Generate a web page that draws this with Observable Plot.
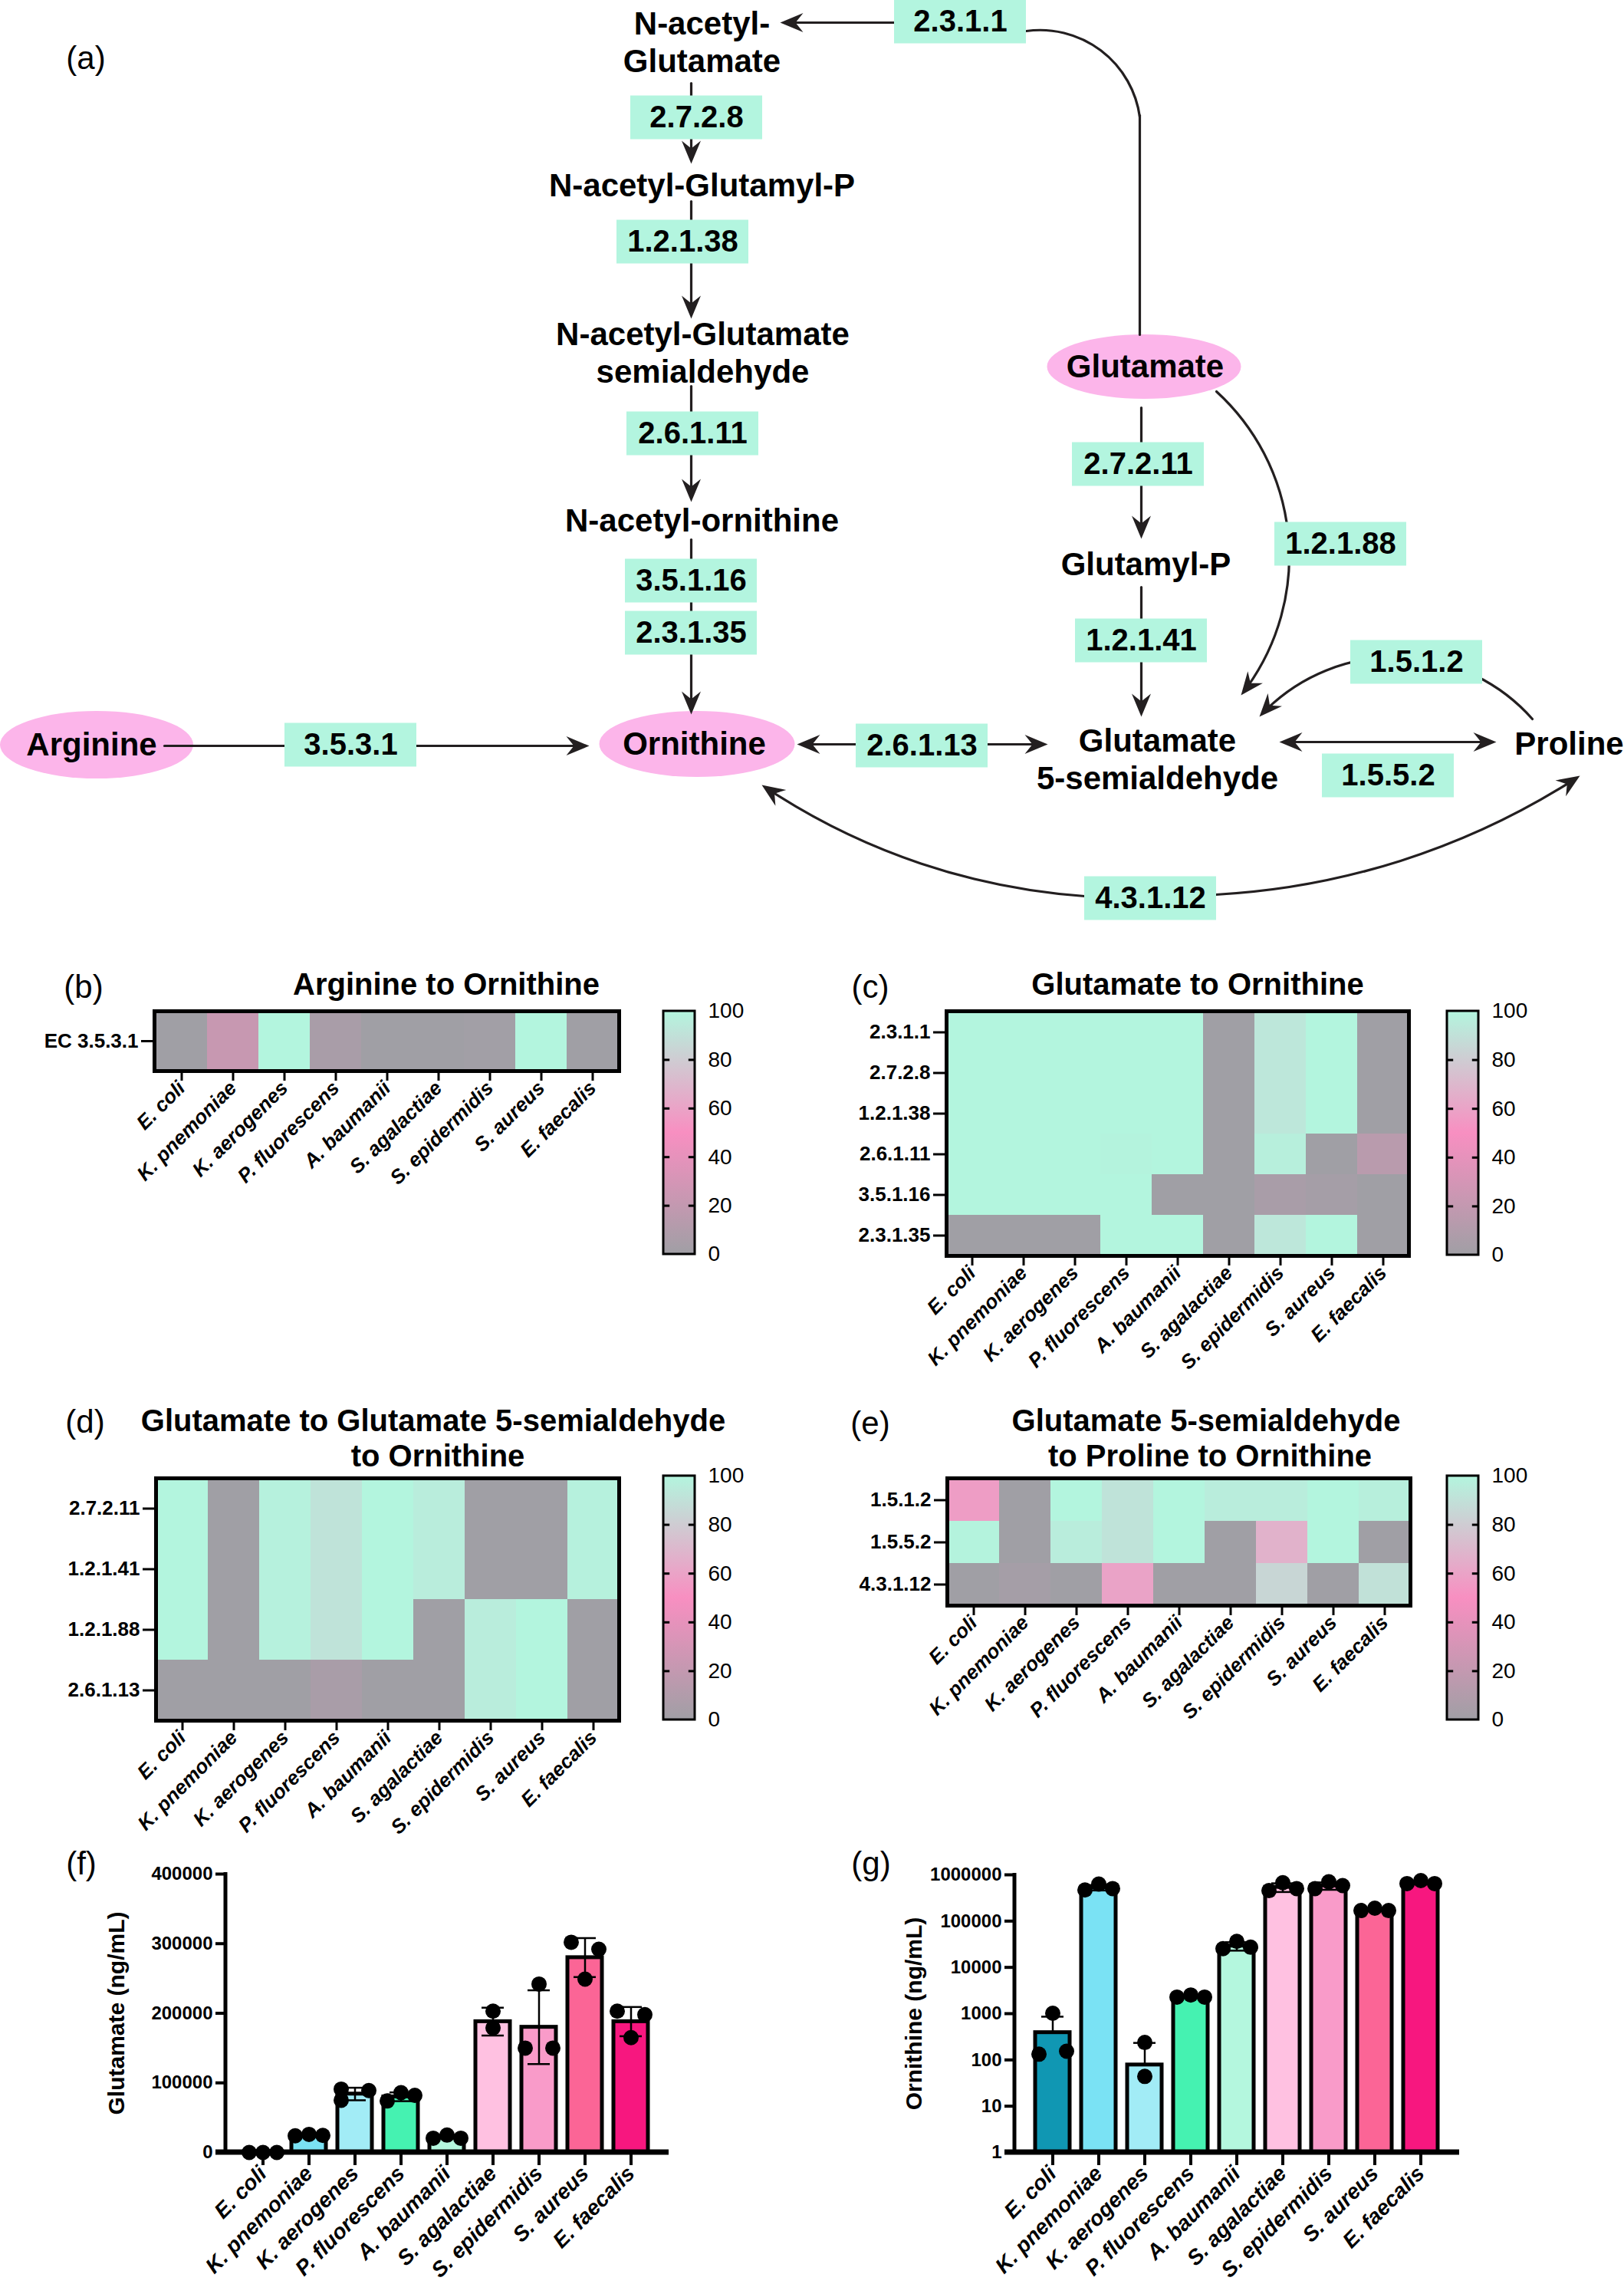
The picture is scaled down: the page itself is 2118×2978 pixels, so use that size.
<!DOCTYPE html>
<html>
<head>
<meta charset="utf-8">
<title>Ornithine biosynthesis pathways</title>
<script src="https://cdn.jsdelivr.net/npm/d3@7"></script>
<script src="https://cdn.jsdelivr.net/npm/@observablehq/plot@0.6"></script>
<style>
  html, body { margin: 0; padding: 0; background: #ffffff; }
  #page { position: relative; width: 2118px; height: 2978px; overflow: hidden; background: #ffffff;
          font-family: 'Liberation Sans', Arial, Helvetica, sans-serif; color: #000; }
  .lbl { position: absolute; transform: translate(-50%, -50%); white-space: pre; text-align: center; line-height: 1; }
  .letter { font-size: 42px; font-weight: normal; }
  .title { font-size: 40px; font-weight: bold; }
  .heat g[aria-label="x-axis tick"], .heat g[aria-label="y-axis tick"],
  .heat g[aria-label="x-axis"] .tick line, .heat g[aria-label="y-axis"] .tick line { stroke-width: 3px; }
  .heat g[aria-label="x-axis tick label"], .heat g[aria-label="x-axis"] .tick text { font-style: italic; }
  .bar g[aria-label="x-axis tick"], .bar g[aria-label="y-axis tick"],
  .bar g[aria-label="x-axis"] .tick line, .bar g[aria-label="y-axis"] .tick line { stroke-width: 4px; }
  .bar g[aria-label="x-axis tick label"], .bar g[aria-label="x-axis"] .tick text { font-style: italic; font-size: 28px; }
</style>
</head>
<body>
<div id="page"></div>
<script>
// ================= DATA =================
const species = ["E. coli", "K. pnemoniae", "K. aerogenes", "P. fluorescens", "A. baumanii",
                 "S. agalactiae", "S. epidermidis", "S. aureus", "E. faecalis"];

// (b) Arginine to Ornithine
const heatBRows = ["EC 3.5.3.1"];
const heatBValues = [[0, 22, 100, 5, 0, 0, 1, 100, 0]];

// (c) Glutamate to Ornithine
const heatCRows = ["2.3.1.1", "2.7.2.8", "1.2.1.38", "2.6.1.11", "3.5.1.16", "2.3.1.35"];
const heatCValues = [
  [100, 100, 100, 100, 100, 0, 93, 100, 0],
  [100, 100, 100, 100, 100, 0, 93, 100, 0],
  [100, 100, 100, 100, 100, 0, 93, 100, 0],
  [100, 100, 100, 99, 100, 0, 97, 0, 14],
  [100, 100, 100, 100, 0, 0, 5, 3, 0],
  [0, 0, 0, 100, 100, 0, 93, 100, 0]
];

// (d) Glutamate to Glutamate 5-semialdehyde to Ornithine
const heatDRows = ["2.7.2.11", "1.2.1.41", "1.2.1.88", "2.6.1.13"];
const heatDValues = [
  [100, 0, 98, 91, 100, 96, 0, 0, 98],
  [100, 0, 98, 91, 100, 96, 0, 0, 98],
  [100, 0, 98, 91, 100, 0, 96, 100, 0],
  [0, 0, 0, 5, 0, 0, 96, 100, 0]
];

// (e) Glutamate 5-semialdehyde to Proline to Ornithine
const heatERows = ["1.5.1.2", "1.5.5.2", "4.3.1.12"];
const heatEValues = [
  [57, 0, 100, 91, 100, 96, 96, 100, 97],
  [99, 0, 96, 91, 100, 0, 67, 100, 0],
  [0, 3, 0, 60, 0, 0, 85, 0, 90]
];

const colorStops = [0, 50, 100];
const colorRamp = ["#a09fa5", "#f88fc1", "#b3f5de"];
const colorbarTicks = [0, 20, 40, 60, 80, 100];

// (f) Glutamate (ng/mL)
const gluMean = [0, 25000, 84000, 80000, 22500, 188000, 180000, 280000, 188000];
const gluSD = [0, 1500, 9000, 6300, 2600, 20000, 53000, 28000, 21000];
const gluPoints = [[0, 0, 0], [24000, 26000, 24500], [91000, 75000, 89000], [74000, 86000, 82000],
                   [20500, 25000, 20500], [203000, 179000], [150000, 242000, 150000],
                   [302000, 249000, 292000], [203000, 165000, 198000]];
const gluTicks = [0, 100000, 200000, 300000, 400000];

// (g) Ornithine (ng/mL)
const ornMean = [390, 530000, 78, 2300, 29000, 540000, 580000, 175000, 680000];
const ornSD = [470, 70000, 155, 130, 6000, 115000, 105000, 12000, 60000];
const ornPoints = [[133, 1020, 154], [470000, 630000, 505000], [238, 44], [2280, 2530, 2280],
                   [25400, 36500, 27300], [456000, 676000, 505000], [505000, 706000, 585000],
                   [169000, 190000, 169000], [647000, 750000, 647000]];
const ornTicks = [1, 10, 100, 1000, 10000, 100000, 1000000];

const barColors = ["#1097b3", "#7ae2f4", "#a2ecf6", "#45f2b1", "#b4f7de",
                   "#ffc1e1", "#f99bc9", "#fb6596", "#f7177f"];

// (a) pathway diagram
const metabolites = ["N-acetyl-\nGlutamate", "N-acetyl-Glutamyl-P", "N-acetyl-Glutamate\nsemialdehyde",
                     "N-acetyl-ornithine", "Glutamyl-P", "Glutamate\n5-semialdehyde", "Proline"];
const keyMetabolites = ["Arginine", "Ornithine", "Glutamate"];
const enzymes = ["2.3.1.1", "2.7.2.8", "1.2.1.38", "2.6.1.11", "3.5.1.16", "2.3.1.35", "3.5.3.1",
                 "2.6.1.13", "2.7.2.11", "1.2.1.41", "1.2.1.88", "1.5.1.2", "1.5.5.2", "4.3.1.12"];

const panelLetters = ["(a)", "(b)", "(c)", "(d)", "(e)", "(f)", "(g)"];
const panelTitles = [["Arginine to Ornithine"], ["Glutamate to Ornithine"],
                     ["Glutamate to Glutamate 5-semialdehyde", "to Ornithine"],
                     ["Glutamate 5-semialdehyde", "to Proline to Ornithine"]];
const axisTitles = ["Glutamate (ng/mL)", "Ornithine (ng/mL)"];

// ================= LAYOUT (diagram coordinates, px) =================
const nodeLayout = {
  "N-acetyl-\nGlutamate": [915, 53], "N-acetyl-Glutamyl-P": [915, 239],
  "N-acetyl-Glutamate\nsemialdehyde": [916, 458], "N-acetyl-ornithine": [915, 676],
  "Glutamyl-P": [1494, 733], "Glutamate\n5-semialdehyde": [1509, 988], "Proline": [2046, 967],
  "2.3.1.1": [1252, 28], "2.7.2.8": [908, 153], "1.2.1.38": [890, 315], "2.6.1.11": [903, 565],
  "3.5.1.16": [901, 757], "2.3.1.35": [901, 825], "3.5.3.1": [457, 971], "2.6.1.13": [1202, 972],
  "2.7.2.11": [1484, 605], "1.2.1.41": [1488, 835], "1.2.1.88": [1748, 709], "1.5.1.2": [1847, 863],
  "1.5.5.2": [1810, 1011], "4.3.1.12": [1500, 1171]
};
const ellipseLayout = {
  Arginine: {cx: 126, cy: 971, w: 252, h: 88, tx: 119},
  Ornithine: {cx: 909, cy: 970, w: 255, h: 86, tx: 905},
  Glutamate: {cx: 1492, cy: 478, w: 253, h: 84, tx: 1493}
};
const edgeLayout = [
  {x1: 1166, y1: 29, x2: 1017, y2: 29, head: true},
  {x1: 1486, y1: 436, x2: 1486, y2: 150, head: false},
  {x1: 1486, y1: 152, x2: 1338, y2: 40, bend: -45, head: false},
  {x1: 901, y1: 108, x2: 901, y2: 213, head: true},
  {x1: 901, y1: 262, x2: 901, y2: 415, head: true},
  {x1: 901, y1: 503, x2: 901, y2: 654, head: true},
  {x1: 901, y1: 703, x2: 901, y2: 931, head: true},
  {x1: 214, y1: 972, x2: 768, y2: 972, head: true},
  {x1: 1202, y1: 970, x2: 1039, y2: 970, head: true},
  {x1: 1202, y1: 970, x2: 1366, y2: 970, head: true},
  {x1: 1488, y1: 531, x2: 1488, y2: 702, head: true},
  {x1: 1488, y1: 765, x2: 1488, y2: 934, head: true},
  {x1: 1586, y1: 510, x2: 1618, y2: 906, bend: 43, head: true},
  {x1: 1998, y1: 937, x2: 1642, y2: 934, bend: -48, head: true},
  {x1: 1810, y1: 967, x2: 1668, y2: 967, head: true},
  {x1: 1810, y1: 967, x2: 1951, y2: 967, head: true},
  {x1: 1414, y1: 1168, x2: 993, y2: 1023, bend: 15, head: true},
  {x1: 1585, y1: 1166, x2: 2060, y2: 1011, bend: -15, head: true}
];

// ================= RENDERING =================
const FONT = "'Liberation Sans', Arial, Helvetica, sans-serif";
const INK = "#231f20", PINK = "#fcb5ea", MINT = "#b3f5df";
const page = document.getElementById("page");

function put(el, left, top, cls) {
  el.style.position = "absolute";
  el.style.left = left + "px";
  el.style.top = top + "px";
  if (cls) el.classList.add(cls);
  page.appendChild(el);
  return el;
}
function label(str, cx, cy, cls) {
  const d = document.createElement("div");
  d.className = "lbl " + cls;
  d.textContent = str;
  d.style.left = cx + "px";
  d.style.top = cy + "px";
  page.appendChild(d);
}
function headSymbol(angleDeg) {
  const a = angleDeg * Math.PI / 180, c = Math.cos(a), s = Math.sin(a);
  const pts = [[0, 0], [-30, 12.5], [-20, 0], [-30, -12.5]];
  return {
    draw(ctx) {
      pts.forEach(([px, py], i) => {
        const X = px * c - py * s, Y = px * s + py * c;
        if (i) ctx.lineTo(X, Y); else ctx.moveTo(X, Y);
      });
      ctx.closePath();
    }
  };
}

// ---- (a) diagram ----
{
  const BW = 172, BH = 57;
  const boxData = enzymes.map(ec => ({ec, x: nodeLayout[ec][0], y: nodeLayout[ec][1]}));
  const metData = metabolites.map(m => ({name: m, x: nodeLayout[m][0], y: nodeLayout[m][1]}));
  const keyData = keyMetabolites.map(k => ({name: k, ...ellipseLayout[k]}));
  const svg = Plot.plot({
    width: 2118, height: 1230,
    marginLeft: 0, marginRight: 0, marginTop: 0, marginBottom: 0,
    x: {domain: [0, 2118], range: [0, 2118], axis: null},
    y: {domain: [0, 1230], range: [0, 1230], axis: null},
    style: {fontFamily: FONT, background: "transparent", overflow: "visible", color: "black"},
    marks: [
      Plot.rect(keyData, {x1: d => d.cx - d.w / 2, x2: d => d.cx + d.w / 2,
                          y1: d => d.cy - d.h / 2, y2: d => d.cy + d.h / 2,
                          fill: PINK, rx: 999, ry: 999}),
      ...edgeLayout.map(e => Plot.arrow([e], {x1: "x1", y1: "y1", x2: "x2", y2: "y2",
                          bend: e.bend || 0, headLength: 0, insetEnd: e.head ? 14 : 0,
                          stroke: INK, strokeWidth: 3.2})),
      Plot.rect(boxData, {x1: d => d.x - BW / 2, x2: d => d.x + BW / 2,
                          y1: d => d.y - BH / 2, y2: d => d.y + BH / 2, fill: MINT}),
      Plot.text(boxData, {x: "x", y: "y", text: "ec", fontSize: 40, fontWeight: "bold", fill: "black"}),
      Plot.text(metData, {x: "x", y: "y", text: "name", fontSize: 42, fontWeight: "bold",
                          lineHeight: 1.19, fill: "black"}),
      Plot.text(keyData, {x: "tx", y: "cy", text: "name", fontSize: 42, fontWeight: "bold", fill: "black"}),
      ...edgeLayout.filter(e => e.head).map(e => Plot.dot([e], {x: "x2", y: "y2",
                          symbol: headSymbol(Math.atan2(e.y2 - e.y1, e.x2 - e.x1) * 180 / Math.PI + (e.bend || 0)),
                          fill: INK, stroke: "none", r: 10}))
    ]
  });
  put(svg, 0, 0, "diagram");
}

// ---- heatmaps ----
function heatmap(rows, values, g) {
  const cells = [];
  rows.forEach((ec, j) => species.forEach((sp, i) => cells.push({ec, species: sp, value: values[j][i]})));
  const svg = Plot.plot({
    width: g.W, height: g.H,
    marginLeft: g.ml, marginRight: g.mr, marginTop: g.mt, marginBottom: g.mb,
    x: {domain: species, padding: 0, tickSize: 13, tickPadding: 5, tickRotate: -45, label: null},
    y: {domain: rows, padding: 0, tickSize: 17, tickPadding: 4, label: null},
    color: {type: "linear", domain: colorStops, range: colorRamp},
    style: {fontFamily: FONT, fontSize: "26px", fontWeight: "bold", background: "transparent",
            overflow: "visible", color: "black"},
    marks: [
      Plot.cell(cells, {x: "species", y: "ec", fill: "value", inset: 0, shapeRendering: "crispEdges"}),
      Plot.frame({stroke: "black", strokeWidth: 5})
    ]
  });
  return put(svg, g.left, g.top, "heat");
}
let cbCount = 0;
function colorbar(barLeft, barTop, barH) {
  const id = "cbgrad" + (cbCount++);
  const pad = 6, barW = 41, right = 100;
  const lo = colorStops[0], hi = colorStops[colorStops.length - 1];
  const svg = Plot.plot({
    width: pad + barW + right, height: barH + 2 * pad,
    marginLeft: pad, marginRight: right, marginTop: pad, marginBottom: pad,
    x: {domain: [0, 1], axis: null},
    y: {domain: [lo, hi], axis: "right", ticks: colorbarTicks, tickSize: 0, tickPadding: 17, label: null},
    style: {fontFamily: FONT, fontSize: "28px", fontWeight: "normal", background: "transparent",
            overflow: "visible", color: "black"},
    marks: [
      () => {
        const defs = d3.create("svg:defs");
        const lg = defs.append("linearGradient").attr("id", id)
          .attr("x1", 0).attr("y1", 1).attr("x2", 0).attr("y2", 0);
        colorStops.forEach((v, i) => lg.append("stop")
          .attr("offset", (v - lo) / (hi - lo)).attr("stop-color", colorRamp[i]));
        return defs.node();
      },
      Plot.rect([colorStops], {x1: 0, x2: 1, y1: d => d[0], y2: d => d[d.length - 1],
                               fill: `url(#${id})`, stroke: "black", strokeWidth: 3}),
      Plot.ruleY(colorbarTicks.slice(1, -1), {x1: 0, x2: 0.2, stroke: "black", strokeWidth: 3}),
      Plot.ruleY(colorbarTicks.slice(1, -1), {x1: 0.8, x2: 1, stroke: "black", strokeWidth: 3})
    ]
  });
  return put(svg, barLeft - pad, barTop - pad, "cbar");
}

heatmap(heatBRows, heatBValues, {left: 0, top: 1240, W: 860, H: 330, ml: 201, mr: 53, mt: 78, mb: 174});
heatmap(heatCRows, heatCValues, {left: 1060, top: 1240, W: 860, H: 567, ml: 174, mr: 83, mt: 78, mb: 170});
heatmap(heatDRows, heatDValues, {left: 0, top: 1860, W: 860, H: 553, ml: 203, mr: 53, mt: 67, mb: 170});
heatmap(heatERows, heatEValues, {left: 1060, top: 1860, W: 860, H: 403, ml: 175, mr: 81, mt: 67, mb: 170});
colorbar(865, 1318, 317);
colorbar(1887, 1318, 318);
colorbar(865, 1924, 318);
colorbar(1887, 1924, 318);

// ---- bar charts ----
function barChart(c) {
  const rows = species.map((s, i) => ({species: s, mean: c.mean[i], sd: c.sd[i]}));
  const pts = [];
  species.forEach((s, i) => {
    const vals = c.points[i];
    // horizontal arrangement of replicate dots (left / centre / right)
    const slots = vals.length === 2 ? [0, 0] : (c.slotOverride[i] || [-1, 0, 1]);
    vals.forEach((v, k) => pts.push({species: s, value: v, slot: slots[k]}));
  });
  const svg = Plot.plot({
    width: c.W, height: c.H,
    marginLeft: c.ml, marginRight: c.mr, marginTop: c.mt, marginBottom: c.mb,
    x: {domain: species, range: c.xRange, paddingInner: 0.25, paddingOuter: 0.125,
        tickSize: 17, tickPadding: 6, tickRotate: -45, label: null},
    y: {type: c.yType, domain: c.yDomain, ticks: c.yTicks, tickFormat: d3.format("d"),
        tickSize: 13, tickPadding: 4, label: null},
    color: {domain: species, range: barColors},
    style: {fontFamily: FONT, fontSize: "24px", fontWeight: "bold", background: "transparent",
            overflow: "visible", color: "black"},
    marks: [
      Plot.barY(rows, {x: "species", y1: c.base, y2: "mean", fill: "species", stroke: "black", strokeWidth: 5}),
      Plot.ruleX(rows, {x: "species", y1: "mean", y2: d => d.mean + d.sd, stroke: "black", strokeWidth: 2.5}),
      Plot.ruleX(rows, {x: "species", y1: d => d.mean - d.sd, y2: "mean", stroke: "black", strokeWidth: 2.5}),
      Plot.tickY(rows, {x: "species", y: d => d.mean + d.sd, insetLeft: 8, insetRight: 8, stroke: "black", strokeWidth: 2.5}),
      Plot.tickY(rows, {x: "species", y: d => d.mean - d.sd, insetLeft: 8, insetRight: 8, stroke: "black", strokeWidth: 2.5}),
      ...[-1, 0, 1].map(s => Plot.dot(pts.filter(p => p.slot === s),
                          {x: "species", y: "value", dx: s * 18, r: 10, fill: "black", stroke: "none"})),
      (index, scales, values, dims) => {
        const g = d3.create("svg:g").attr("stroke", "black");
        const y0 = scales.y(c.base), yTop = scales.y(c.yDomain[1]);
        g.append("line").attr("x1", dims.marginLeft).attr("x2", dims.marginLeft)
          .attr("y1", y0).attr("y2", yTop - 2).attr("stroke-width", 5);
        g.append("line").attr("x1", dims.marginLeft - 13).attr("x2", dims.width - dims.marginRight)
          .attr("y1", y0).attr("y2", y0).attr("stroke-width", 7);
        return g.node();
      },
      Plot.text([c.title], {text: d => d, frameAnchor: "left", textAnchor: "middle", dx: c.titleDx,
                            rotate: -90, fontSize: 30, fontWeight: "bold", fill: "black"})
    ]
  });
  return put(svg, c.left, c.top, "bar");
}

barChart({
  mean: gluMean, sd: gluSD, points: gluPoints,
  slotOverride: {2: [-1, -1, 1]},
  yType: "linear", yDomain: [0, 400000], yTicks: gluTicks, base: 0,
  title: axisTitles[0], titleDx: -142,
  left: 0, top: 2380, W: 1060, H: 598, ml: 294, mr: 188, mt: 63, mb: 172, xRange: [311, 853]
});
barChart({
  mean: ornMean, sd: ornSD, points: ornPoints,
  slotOverride: {},
  yType: "log", yDomain: [1, 1000000], yTicks: ornTicks, base: 1,
  title: axisTitles[1], titleDx: -131,
  left: 1060, top: 2380, W: 1058, H: 598, ml: 263, mr: 215, mt: 64, mb: 172, xRange: [282, 823]
});

// ---- panel letters and titles ----
const letterPos = [[112, 76], [109, 1287], [1135, 1287], [111, 1854], [1135, 1856], [106, 2430], [1136, 2430]];
panelLetters.forEach((t, i) => label(t, letterPos[i][0], letterPos[i][1], "letter"));
const titlePos = [[[582, 1283]], [[1562, 1283]], [[565, 1852], [571, 1898]], [[1573, 1852], [1578, 1898]]];
panelTitles.forEach((lines, i) => lines.forEach((ln, k) => label(ln, titlePos[i][k][0], titlePos[i][k][1], "title")));
</script>
</body>
</html>
